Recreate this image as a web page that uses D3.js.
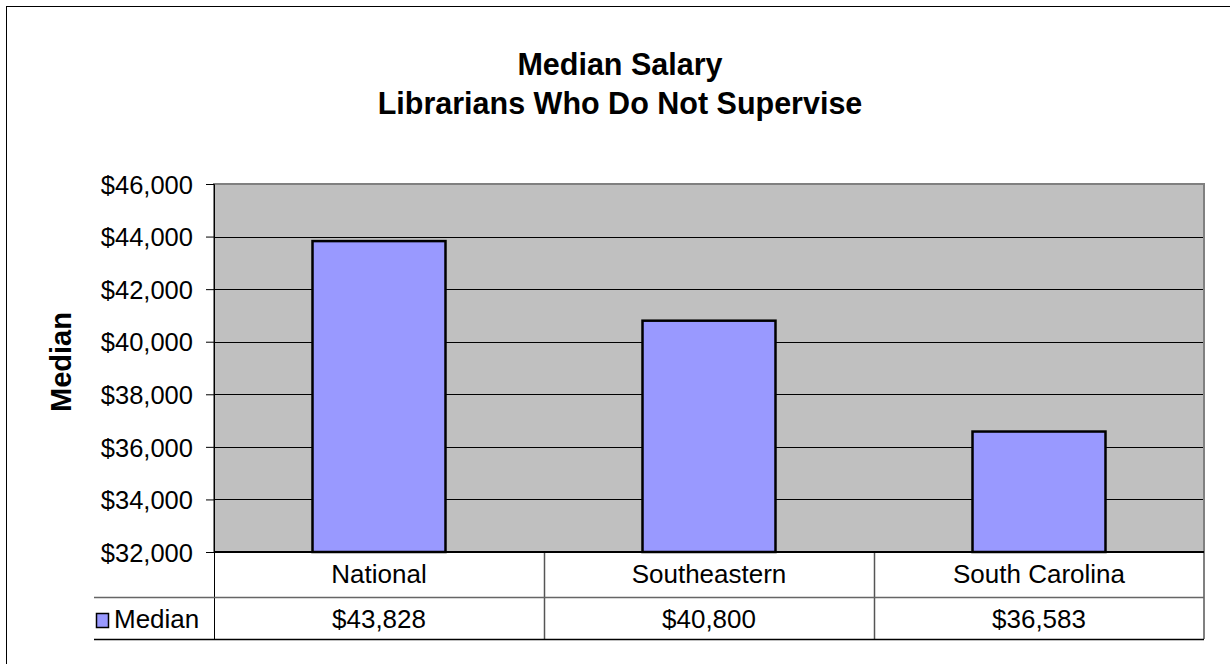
<!DOCTYPE html>
<html>
<head>
<meta charset="utf-8">
<script src="https://cdn.jsdelivr.net/npm/d3@7"></script>
<style>
  body { margin: 0; background: #fff; }
  text { font-family: "Liberation Sans", Arial, sans-serif; fill: #000; }
</style>
</head>
<body>
<div id="viz"></div>
<script>
var categories = ['National', 'Southeastern', 'South Carolina'];
var medianValues = [43828, 40800, 36583];
var tableLabels = ['$43,828', '$40,800', '$36,583'];
var yTicks = [32000, 34000, 36000, 38000, 40000, 42000, 44000, 46000];
var seriesName = 'Median';
var titleLines = ['Median Salary', 'Librarians Who Do Not Supervise'];

var width = 1230;
var height = 664;

var plot = { left: 214, top: 184, right: 1204, bottom: 552 };
var row1Bottom = 597;
var row2Bottom = 639;
var tableLeft = 94;

var barFill = '#9999FF';
var plotFill = '#C0C0C0';

var svg = d3.select('#viz')
    .append('svg')
    .attr('width', width)
    .attr('height', height);

// outer chart border (right and bottom run off the page)
svg.append('rect')
    .attr('x', 6.5).attr('y', 6.5)
    .attr('width', 1240).attr('height', 700)
    .attr('fill', '#fff')
    .attr('stroke', '#000')
    .attr('stroke-width', 1);

var x = d3.scaleBand()
    .domain(categories)
    .range([plot.left, plot.right])
    .paddingInner(0.597)
    .paddingOuter(0.2985);

var xCat = d3.scaleBand()
    .domain(categories)
    .range([plot.left, plot.right]);

var y = d3.scaleLinear()
    .domain([32000, 46000])
    .range([plot.bottom, plot.top]);

// plot area
svg.append('rect')
    .attr('x', plot.left).attr('y', plot.top)
    .attr('width', plot.right - plot.left)
    .attr('height', plot.bottom - plot.top)
    .attr('fill', plotFill);

// gridlines
svg.append('g')
    .selectAll('line')
    .data(yTicks.slice(1, -1))
    .enter().append('line')
    .attr('x1', plot.left).attr('x2', plot.right)
    .attr('y1', function (d) { return Math.round(y(d)) + 0.5; })
    .attr('y2', function (d) { return Math.round(y(d)) + 0.5; })
    .attr('stroke', '#000')
    .attr('stroke-width', 1);

// plot border
svg.append('rect')
    .attr('x', plot.left).attr('y', plot.top)
    .attr('width', plot.right - plot.left)
    .attr('height', plot.bottom - plot.top)
    .attr('fill', 'none')
    .attr('stroke', '#808080')
    .attr('stroke-width', 2);

// bars
svg.append('g')
    .selectAll('rect')
    .data(medianValues)
    .enter().append('rect')
    .attr('x', function (d, i) { return x(categories[i]); })
    .attr('y', function (d) { return y(d); })
    .attr('width', x.bandwidth())
    .attr('height', function (d) { return y(32000) - y(d); })
    .attr('fill', barFill)
    .attr('stroke', '#000')
    .attr('stroke-width', 2.5);

// y axis
var yAxis = d3.axisLeft(y)
    .tickValues(yTicks)
    .tickSize(8)
    .tickPadding(13)
    .tickFormat(function (d) { return '$' + d3.format(',')(d); });

var yg = svg.append('g')
    .attr('transform', 'translate(' + plot.left + ',0)')
    .call(yAxis);
yg.select('.domain').attr('stroke', '#000').attr('stroke-width', 1);
yg.selectAll('.tick line').attr('stroke', '#000');
yg.selectAll('text')
    .attr('font-size', 25.5)
    .attr('dy', '0.36em')
    .attr('fill', '#000')
    .style('font-family', '"Liberation Sans", Arial, sans-serif');

// y axis title
svg.append('text')
    .attr('transform', 'translate(71,362) rotate(-90)')
    .attr('text-anchor', 'middle')
    .attr('font-size', 29)
    .attr('font-weight', 'bold')
    .text(seriesName);

// title
svg.append('g')
    .selectAll('text')
    .data(titleLines)
    .enter().append('text')
    .attr('x', 620)
    .attr('y', function (d, i) { return 75 + i * 39; })
    .attr('text-anchor', 'middle')
    .attr('font-size', 30.5)
    .attr('font-weight', 'bold')
    .text(function (d) { return d; });

// data table
var table = svg.append('g');

table.append('line')
    .attr('x1', plot.left + 0.5).attr('x2', plot.left + 0.5)
    .attr('y1', plot.bottom).attr('y2', row2Bottom)
    .attr('stroke', '#000');

table.append('line')
    .attr('x1', plot.right).attr('x2', plot.right)
    .attr('y1', plot.bottom).attr('y2', row2Bottom)
    .attr('stroke', '#808080')
    .attr('stroke-width', 2);

table.selectAll('line.sep')
    .data(categories.slice(1))
    .enter().append('line')
    .attr('class', 'sep')
    .attr('x1', function (d) { return xCat(d) + 0.5; })
    .attr('x2', function (d) { return xCat(d) + 0.5; })
    .attr('y1', plot.bottom).attr('y2', row2Bottom)
    .attr('stroke', '#555')
    .attr('stroke-width', 1.5);

table.append('line')
    .attr('x1', tableLeft).attr('x2', plot.right)
    .attr('y1', row1Bottom + 0.5).attr('y2', row1Bottom + 0.5)
    .attr('stroke', '#666')
    .attr('stroke-width', 1.5);

table.append('line')
    .attr('x1', tableLeft).attr('x2', plot.right)
    .attr('y1', row2Bottom + 0.5).attr('y2', row2Bottom + 0.5)
    .attr('stroke', '#000')
    .attr('stroke-width', 1.5);

// bottom edge of plot over the table
table.append('line')
    .attr('x1', plot.left).attr('x2', plot.right)
    .attr('y1', plot.bottom).attr('y2', plot.bottom)
    .attr('stroke', '#000')
    .attr('stroke-width', 2);

table.selectAll('text.cat')
    .data(categories)
    .enter().append('text')
    .attr('class', 'cat')
    .attr('x', function (d) { return xCat(d) + xCat.bandwidth() / 2; })
    .attr('y', 583)
    .attr('text-anchor', 'middle')
    .attr('font-size', 26)
    .text(function (d) { return d; });

table.selectAll('text.val')
    .data(tableLabels)
    .enter().append('text')
    .attr('class', 'val')
    .attr('x', function (d, i) { return xCat(categories[i]) + xCat.bandwidth() / 2; })
    .attr('y', 628)
    .attr('text-anchor', 'middle')
    .attr('font-size', 26)
    .text(function (d) { return d; });

// legend key in table
table.append('rect')
    .attr('x', 96.5).attr('y', 613.5)
    .attr('width', 12).attr('height', 14)
    .attr('fill', barFill)
    .attr('stroke', '#000')
    .attr('stroke-width', 1.5);

table.append('text')
    .attr('x', 114)
    .attr('y', 628)
    .attr('font-size', 26)
    .text(seriesName);
</script>
</body>
</html>
